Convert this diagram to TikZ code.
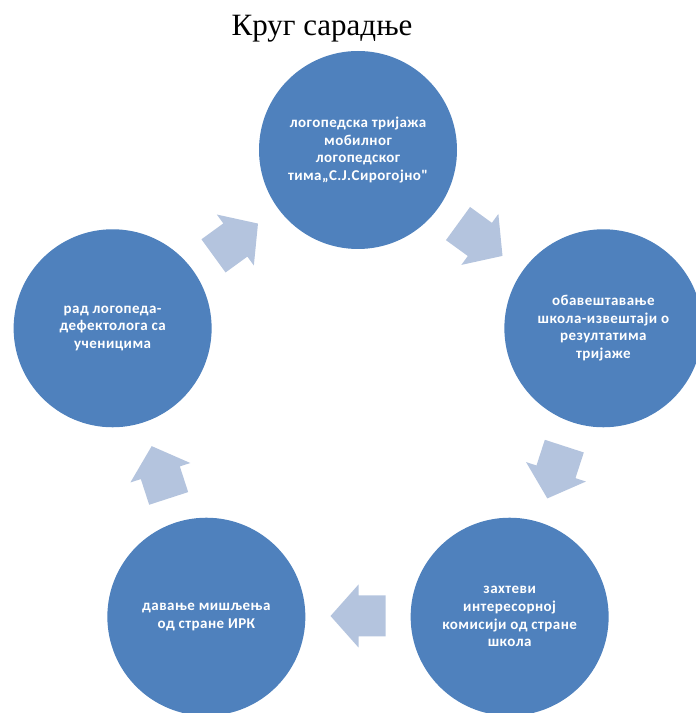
\documentclass[tikz,border=0pt]{standalone}
\usepackage{fontspec}
\setmainfont{Liberation Serif}
\newfontfamily\cfont[LetterSpace=3]{Carlito}
\definecolor{circblue}{HTML}{4F81BD}
\definecolor{arrblue}{RGB}{180,196,222}
\begin{document}
\begin{tikzpicture}[x=1pt,y=1pt,
  bubble/.style={circle, fill=circblue, minimum size=198pt, inner sep=0pt,
    text=white, font=\cfont\bfseries\fontsize{15}{17.6}\selectfont, align=center},
  blockarrow/.pic={\fill[arrblue] (-27.5,-20.5) -- (-0.5,-20.5) -- (-0.5,-31.5)
    -- (27.5,0) -- (-0.5,31.5) -- (-0.5,20.5) -- (-27.5,20.5) -- cycle;}]
\useasboundingbox (0,0) rectangle (696,713);
\coordinate (c) at (358,305);
\node[anchor=base, font=\fontsize{31}{37}\selectfont] (title) at (322,677) {Круг сарадње};
\node[bubble] (n1) at ([shift={(90:258)}]c) {логопедска тријажа\\мобилног\\логопедског\\тима„С.Ј.Сирогојно"};
\node[bubble] (n2) at ([shift={(18:258)}]c) {обавештавање\\школа-извештаји о\\резултатима\\тријаже};
\node[bubble] (n3) at ([shift={(-54:258)}]c) {захтеви\\интересорној\\комисији од стране\\школа};
\node[bubble] (n4) at ([shift={(-126:258)}]c) {давање мишљења\\од стране ИРК};
\node[bubble] (n5) at ([shift={(162:258)}]c) {рад логопеда-\\дефектолога са\\ученицима};
\pic[rotate=36] (a1) at ([shift={(126:208)}]c) {blockarrow};
\pic[rotate=-36] (a2) at ([shift={(54:208)}]c) {blockarrow};
\pic[rotate=-108] (a3) at ([shift={(-18:208)}]c) {blockarrow};
\pic[rotate=180] (a4) at ([shift={(-90:208)}]c) {blockarrow};
\pic[rotate=108] (a5) at ([shift={(198:208)}]c) {blockarrow};
\end{tikzpicture}
\end{document}
